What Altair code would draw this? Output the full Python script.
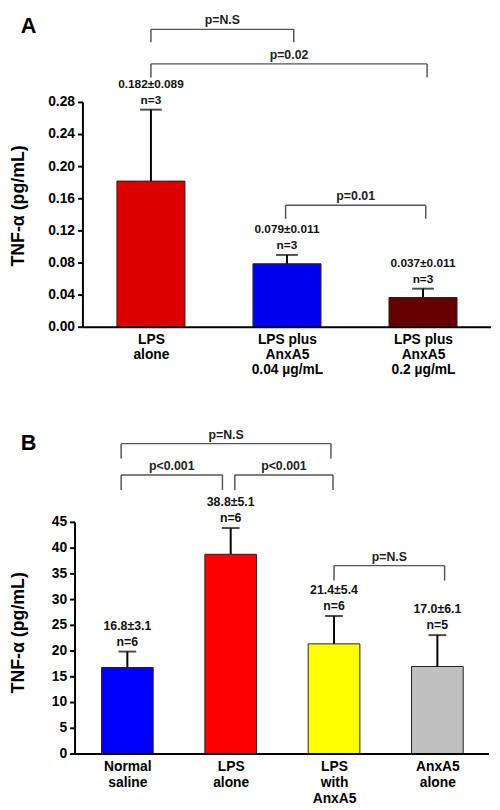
import json
import altair as alt
import pandas as pd

FONT = "Liberation Sans"

# ---------------- Panel A data ----------------
a_groups = ["LPS|alone", "LPS plus|AnxA5|0.04 µg/mL", "LPS plus|AnxA5|0.2 µg/mL"]
a_means = [0.182, 0.079, 0.037]
a_sems = [0.089, 0.011, 0.011]
a_ns = [3, 3, 3]
a_texts = ["0.182±0.089", "0.079±0.011", "0.037±0.011"]
a_colors = ["#dd0000", "#0000ee", "#660000"]
a_ticks = [0, 0.04, 0.08, 0.12, 0.16, 0.20, 0.24, 0.28]
a_ymax = 0.3868
# brackets: start, end, level, leg bottom, label
a_br_x1 = [0.0, 0.0, 0.99]
a_br_x2 = [1.05, 2.03, 2.02]
a_br_top = [0.371, 0.328, 0.152]
a_br_bot = [0.355, 0.311, 0.135]
a_br_lab = ["p=N.S", "p=0.02", "p=0.01"]

# ---------------- Panel B data ----------------
b_groups = ["Normal|saline", "LPS|alone", "LPS|with|AnxA5", "AnxA5|alone"]
b_means = [16.8, 38.8, 21.4, 17.0]
b_sems = [3.1, 5.1, 5.4, 6.1]
b_ns = [6, 6, 6, 5]
b_texts = ["16.8±3.1", "38.8±5.1", "21.4±5.4", "17.0±6.1"]
b_colors = ["#0000ff", "#ff0000", "#ffff00", "#c0c0c0"]
b_ticks = [0, 5, 10, 15, 20, 25, 30, 35, 40, 45]
b_ymax = 63.77
b_br_x1 = [-0.06, -0.06, 1.04, 2.0]
b_br_x2 = [1.97, 0.92, 1.99, 3.07]
b_br_top = [60.3, 54.2, 54.2, 36.6]
b_br_bot = [57.4, 51.3, 51.3, 33.7]
b_br_lab = ["p=N.S", "p<0.001", "p<0.001", "p=N.S"]

Y_TITLE = "TNF-α (pg/mL)"


def panel(groups, means, sems, ns, texts, colors, ticks, ymax,
          bx1, bx2, btop, bbot, blab, width, height, xdom, fmt,
          axis_offset, title_x, title_y, cap, lab_size, letter, letter_x, letter_y,
          line_h):
    df = pd.DataFrame({
        "i": list(range(len(groups))),
        "mean": means,
        "sem": sems,
        "color": colors,
        "stat": texts,
        "n": [f"n={n}" for n in ns],
    })
    df["lo"] = df["i"] - 0.25
    df["hi"] = df["i"] + 0.25
    df["top"] = df["mean"] + df["sem"]

    br = pd.DataFrame({"x1": bx1, "x2": bx2, "top": btop, "bot": bbot, "lab": blab})
    br["mid"] = (br["x1"] + br["x2"]) / 2

    tk = pd.DataFrame({"v": ticks})

    names = json.dumps(groups, ensure_ascii=False)
    xscale = alt.Scale(domain=xdom, nice=False, zero=False)
    yscale = alt.Scale(domain=[0, ymax], nice=False, zero=True)

    xaxis = alt.Axis(values=list(range(len(groups))),
                     labelExpr=f"split({names}[datum.value], '|')",
                     domain=False, ticks=False, grid=False, title=None,
                     labelFont=FONT, labelFontSize=14, labelFontWeight="bold",
                     labelColor="black", labelLineHeight=line_h, labelPadding=6,
                     labelOverlap=False, labelFlush=False, labelBound=False)

    base = alt.Chart(df)
    bars = base.mark_rect(stroke="#222222", strokeWidth=1).encode(
        x=alt.X("lo:Q", scale=xscale, axis=xaxis),
        x2="hi:Q",
        y=alt.Y("mean:Q", scale=yscale, axis=None),
        y2=alt.datum(0),
        fill=alt.Fill("color:N", scale=None),
    )
    err = base.mark_rule(color="black", strokeWidth=2).encode(
        x="i:Q", y="mean:Q", y2="top:Q")
    caps = base.mark_tick(color="black", thickness=2, size=cap, orient="horizontal").encode(
        x="i:Q", y="top:Q")
    nlab = base.mark_text(font=FONT, fontSize=lab_size, fontWeight="bold",
                          baseline="bottom", dy=-3, color="#111111").encode(
        x="i:Q", y="top:Q", text="n:N")
    slab = base.mark_text(font=FONT, fontSize=lab_size, fontWeight="bold",
                          baseline="bottom", dy=-19, color="#111111").encode(
        x="i:Q", y="top:Q", text="stat:N")

    bb = alt.Chart(br)
    hline = bb.mark_rule(color="#555555", strokeWidth=1.5).encode(
        x="x1:Q", x2="x2:Q", y="top:Q")
    leg1 = bb.mark_rule(color="#555555", strokeWidth=1.5).encode(
        x="x1:Q", y="top:Q", y2="bot:Q")
    leg2 = bb.mark_rule(color="#555555", strokeWidth=1.5).encode(
        x="x2:Q", y="top:Q", y2="bot:Q")
    btext = bb.mark_text(font=FONT, fontSize=12.5, fontWeight="bold",
                         baseline="bottom", dy=-2, color="#222222").encode(
        x="mid:Q", y="top:Q", text="lab:N")

    # hand-drawn y axis (line, ticks, labels, title)
    tkc = alt.Chart(tk)
    ytick = tkc.mark_rule(color="black", strokeWidth=2).encode(
        x=alt.value(-axis_offset - 5), x2=alt.value(-axis_offset), y="v:Q")
    ylab = tkc.mark_text(font=FONT, fontSize=14, fontWeight="bold", align="right",
                         baseline="middle", color="black").encode(
        x=alt.value(-axis_offset - 8), y="v:Q", text=alt.Text("v:Q", format=fmt))
    ytitle = alt.Chart(pd.DataFrame({"t": [Y_TITLE]})).mark_text(
        font=FONT, fontSize=18, fontWeight="bold", angle=270, align="center",
        baseline="middle", color="black").encode(
        x=alt.value(title_x), y=alt.value(title_y), text="t:N")

    yline = alt.Chart(pd.DataFrame({"a": [0], "b": [ticks[-1]]})).mark_rule(
        color="black", strokeWidth=2).encode(
        x=alt.value(-axis_offset), y="a:Q", y2="b:Q")
    xline = alt.Chart(pd.DataFrame({"a": [0]})).mark_rule(
        color="black", strokeWidth=2).encode(
        x=alt.value(-axis_offset), x2=alt.value(width), y="a:Q")
    letter_mark = alt.Chart(pd.DataFrame({"t": [letter]})).mark_text(
        font=FONT, fontSize=22, fontWeight="bold", align="center",
        baseline="top", color="black").encode(
        x=alt.value(letter_x), y=alt.value(letter_y), text="t:N")

    return alt.layer(bars, err, caps, nlab, slab, hline, leg1, leg2, btext,
                     ytick, ylab, ytitle, yline, xline, letter_mark
                     ).properties(width=width, height=height)


chart_a = panel(a_groups, a_means, a_sems, a_ns, a_texts, a_colors, a_ticks, a_ymax,
                a_br_x1, a_br_x2, a_br_top, a_br_bot, a_br_lab,
                width=414, height=315, xdom=[-0.5, 2.5], fmt=".2f",
                axis_offset=0, title_x=-65, title_y=192, cap=22, lab_size=12,
                letter="A", letter_x=-55, letter_y=0, line_h=15)

chart_b = panel(b_groups, b_means, b_sems, b_ns, b_texts, b_colors, b_ticks, b_ymax,
                b_br_x1, b_br_x2, b_br_top, b_br_bot, b_br_lab,
                width=412, height=333, xdom=[-0.43, 3.5], fmt="d",
                axis_offset=8, title_x=-65, title_y=210, cap=18, lab_size=12.5,
                letter="B", letter_x=-55, letter_y=8, line_h=16)

chart = alt.vconcat(chart_a, chart_b, spacing=50).properties(
    padding={"left": 2, "top": 0, "right": 0, "bottom": 0}
).configure(font=FONT).configure_view(stroke=None)

chart.save("out.html", embed_options={"renderer": "svg", "actions": False})
